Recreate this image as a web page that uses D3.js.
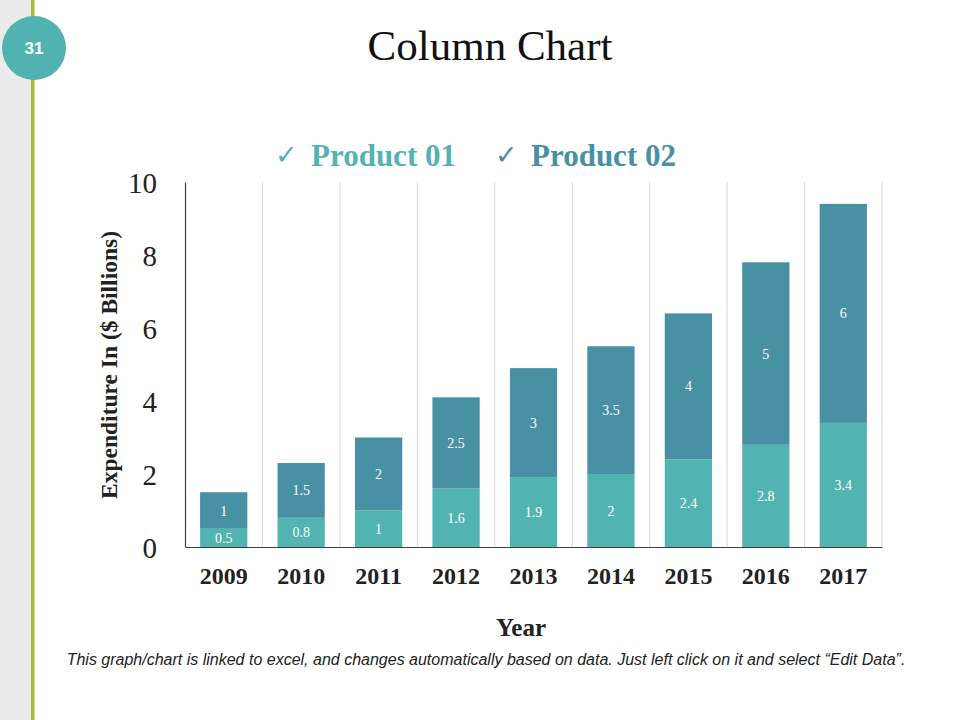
<!DOCTYPE html>
<html><head><meta charset="utf-8">
<script src="https://cdn.jsdelivr.net/npm/d3@7/dist/d3.min.js"></script>
<style>body{margin:0;background:#fff}svg{display:block}</style>
</head><body>
<svg id="chart" width="960" height="720"></svg>
<script>
const years = ["2009","2010","2011","2012","2013","2014","2015","2016","2017"];
const product01 = [0.5,0.8,1,1.6,1.9,2,2.4,2.8,3.4];
const product02 = [1,1.5,2,2.5,3,3.5,4,5,6];
const seriesNames = ["Product 01","Product 02"];
const yTicks = [0,2,4,6,8,10];

const colors = ["#52b4b1","#4890a3"];
const svg = d3.select("#chart");
const serif = "Liberation Serif, Times New Roman, serif";

// left decoration
svg.append("rect").attr("x",0).attr("y",0).attr("width",32).attr("height",720).attr("fill","#ebebeb");
svg.append("rect").attr("x",31).attr("y",0).attr("width",3.5).attr("height",720).attr("fill","#a6b93a");
svg.append("circle").attr("cx",34).attr("cy",48).attr("r",32).attr("fill","#50b3b0");
svg.append("text").attr("x",34).attr("y",54).attr("text-anchor","middle")
  .attr("font-family","Liberation Sans, Arial, sans-serif").attr("font-weight","bold")
  .attr("font-size",17).attr("fill","#fff").text("31");

// title
svg.append("text").attr("x",490).attr("y",60).attr("text-anchor","middle")
  .attr("font-family",serif).attr("font-size",43)
  .attr("fill","#111").text("Column Chart");

const x0 = 185, x1 = 882, yTop = 182, yBase = 547;
const x = d3.scaleBand().domain(years).range([x0,x1]).paddingInner(0.39).paddingOuter(0.195);
const y = d3.scaleLinear().domain([0,10]).range([yBase,yTop]);

const g = svg.append("g");
const step = x.step();
const bounds = d3.range(years.length+1).map(i => x0 + i*step);
g.selectAll(".grid").data(bounds.slice(1)).join("line")
  .attr("x1",d=>d).attr("x2",d=>d).attr("y1",yTop).attr("y2",yBase)
  .attr("stroke","#d9d9d9").attr("stroke-width",1);

const data = years.map((yr,i)=>({year:yr,p1:product01[i],p2:product02[i]}));
const stack = d3.stack().keys(["p1","p2"])(data);
stack.forEach((layer,li)=>{
  g.selectAll(".bar"+li).data(layer).join("rect")
    .attr("x",d=>x(d.data.year)).attr("width",x.bandwidth())
    .attr("y",d=>y(d[1])).attr("height",d=>y(d[0])-y(d[1]))
    .attr("fill",colors[li]);
  g.selectAll(".lbl"+li).data(layer).join("text")
    .attr("x",d=>x(d.data.year)+x.bandwidth()/2)
    .attr("y",d=>(y(d[0])+y(d[1]))/2+5)
    .attr("text-anchor","middle")
    .attr("font-family",serif).attr("font-size",14)
    .attr("fill","#fff").text(d=>String(+(d[1]-d[0]).toFixed(2)));
});

const yAxis = d3.axisLeft(y).tickValues(yTicks).tickSize(0).tickPadding(28);
const ya = svg.append("g").attr("transform",`translate(${x0},0)`).call(yAxis);
ya.select(".domain").attr("stroke","#404040").attr("stroke-width",1.2);
ya.selectAll("text").attr("font-family",serif)
  .attr("font-size",29).attr("fill","#222").attr("dy","0.35em");

const xAxis = d3.axisBottom(x).tickSize(0).tickPadding(20);
const xa = svg.append("g").attr("transform",`translate(0,${yBase})`).call(xAxis);
xa.select(".domain").attr("stroke","#404040").attr("stroke-width",1.2);
xa.selectAll("text").attr("font-family",serif)
  .attr("font-weight","bold").attr("font-size",24).attr("fill","#222");

svg.append("text").attr("transform","translate(117,365) rotate(-90)").attr("text-anchor","middle")
  .attr("font-family",serif).attr("font-weight","bold")
  .attr("font-size",23.5).attr("fill","#222").text("Expenditure In ($ Billions)");
svg.append("text").attr("x",521).attr("y",636).attr("text-anchor","middle")
  .attr("font-family",serif).attr("font-weight","bold")
  .attr("font-size",25).attr("fill","#222").text("Year");

const legX = [277,497];
seriesNames.forEach((n,i)=>{
  const lg = svg.append("g");
  lg.append("text").attr("x",legX[i]-2).attr("y",164)
    .attr("font-family","DejaVu Sans, sans-serif").attr("font-size",27).attr("fill",colors[i]).text("✓");
  lg.append("text").attr("x",legX[i]+34).attr("y",166)
    .attr("font-family",serif).attr("font-weight","bold")
    .attr("font-size",31).attr("fill",colors[i]).text(n);
});

svg.append("text").attr("x",486).attr("y",665).attr("text-anchor","middle")
  .attr("font-family","Liberation Sans Narrow, Arial Narrow, Liberation Sans, sans-serif")
  .attr("font-style","italic").attr("font-size",16).attr("fill","#222")
  .text("This graph/chart is linked to excel, and changes automatically based on data. Just left click on it and select \u201CEdit Data\u201D.");
</script>
</body></html>
